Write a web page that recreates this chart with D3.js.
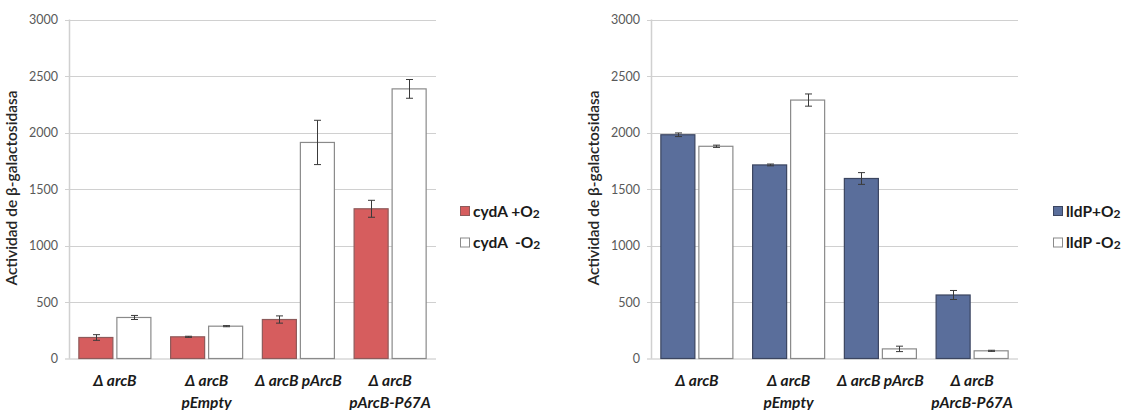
<!DOCTYPE html>
<html>
<head>
<meta charset="utf-8">
<script src="https://cdn.jsdelivr.net/npm/d3@7/dist/d3.min.js"></script>
<style>
  html, body { margin: 0; padding: 0; background: #fff; }
  svg { display: block; }
  text { font-family: Lato, "Open Sans", sans-serif; }
</style>
</head>
<body>
<svg id="chart" width="1126" height="410"></svg>
<script>
// Strain categories (each entry = label lines)
const categories = [
  ["Δ arcB"],
  ["Δ arcB", "pEmpty"],
  ["Δ arcB pArcB"],
  ["Δ arcB", "pArcB-P67A"]
];
const yTicks = [0, 500, 1000, 1500, 2000, 2500, 3000];

// cydA reporter (Miller units)
const cydAPlusO2 = [186, 192, 345, 1325];
const cydAPlusO2Err = [25, 5, 32, 75];
const cydAMinusO2 = [363, 286, 1912, 2386];
const cydAMinusO2Err = [18, 5, 196, 83];

// lldP reporter (Miller units)
const lldPPlusO2 = [1980, 1713, 1593, 562];
const lldPPlusO2Err = [16, 8, 52, 40];
const lldPMinusO2 = [1878, 2287, 85, 68];
const lldPMinusO2Err = [10, 54, 24, 5];

const yTitle = "Actividad de β-galactosidasa";

const svg = d3.select("#chart");

function drawPanel(cfg) {
  const g = svg.append("g").attr("transform", `translate(${cfg.x0},0)`);
  const top = 19.5, bottom = 358.5, width = 367;

  const y = d3.scaleLinear().domain([0, 3000]).range([bottom, top]);
  const x0 = d3.scaleBand().domain(d3.range(categories.length))
    .range([0, width]).paddingInner(0.215).paddingOuter(0.1075);
  const x1 = d3.scaleBand().domain([0, 1])
    .range([0, x0.bandwidth()]).paddingInner(0.105).paddingOuter(0);

  // gridlines
  g.append("g").selectAll("line").data(yTicks.filter(d => d > 0)).join("line")
    .attr("x1", -4).attr("x2", width)
    .attr("y1", d => Math.round(y(d)) + 0.5).attr("y2", d => Math.round(y(d)) + 0.5)
    .attr("stroke", "#d0d0d0").attr("stroke-width", 1.2);

  // y axis (labels only, line drawn separately)
  const yAxis = d3.axisLeft(y).tickValues(yTicks).tickFormat(d3.format("d"))
    .tickSize(0).tickPadding(11);
  const ya = g.append("g").call(yAxis);
  ya.select(".domain").remove();
  ya.selectAll("text").attr("fill", "#595959")
    .style("font-size", "12.5px").style("font-family", "Lato, sans-serif");

  // axis lines
  g.append("line").attr("x1", 0.5).attr("x2", 0.5).attr("y1", top).attr("y2", bottom)
    .attr("stroke", "#d0d0d0").attr("stroke-width", 1.5);
  g.append("line").attr("x1", -4).attr("x2", width).attr("y1", bottom + 0.5).attr("y2", bottom + 0.5)
    .attr("stroke", "#c4c4c4").attr("stroke-width", 1.2);

  const series = [
    { vals: cfg.plus, err: cfg.plusErr, fill: cfg.color, stroke: cfg.edge },
    { vals: cfg.minus, err: cfg.minusErr, fill: "#ffffff", stroke: "#8a8a8a" }
  ];

  series.forEach((s, si) => {
    const sg = g.append("g");
    sg.selectAll("rect").data(s.vals).join("rect")
      .attr("x", (d, i) => x0(i) + x1(si))
      .attr("y", d => y(d))
      .attr("width", x1.bandwidth())
      .attr("height", d => bottom - y(d))
      .attr("fill", s.fill)
      .attr("stroke", s.stroke).attr("stroke-width", 1.2);

    const eg = g.append("g").attr("stroke", "#3a3a3a").attr("stroke-width", 1);
    s.vals.forEach((v, i) => {
      const cx = Math.round(x0(i) + x1(si) + x1.bandwidth() / 2) + 0.5;
      const e = s.err[i];
      eg.append("line").attr("x1", cx).attr("x2", cx).attr("y1", y(v + e)).attr("y2", y(v - e));
      eg.append("line").attr("x1", cx - 3.5).attr("x2", cx + 3.5).attr("y1", y(v + e)).attr("y2", y(v + e));
      eg.append("line").attr("x1", cx - 3.5).attr("x2", cx + 3.5).attr("y1", y(v - e)).attr("y2", y(v - e));
    });
  });

  // category labels
  const lab = g.append("g").attr("text-anchor", "middle")
    .style("font-size", "15.5px").style("font-weight", "bold").style("font-style", "italic")
    .attr("fill", "#1a1a1a");
  categories.forEach((lines, i) => {
    const t = lab.append("text").attr("x", x0(i) + x0.bandwidth() / 2).attr("y", 385);
    lines.forEach((ln, k) => {
      t.append("tspan").attr("x", x0(i) + x0.bandwidth() / 2).attr("y", 386 + k * 21.5).text(ln);
    });
  });

  // y title
  g.append("text")
    .attr("transform", `translate(${-52},${188}) rotate(-90)`)
    .attr("text-anchor", "middle")
    .style("font-size", "15.5px").style("font-weight", "600")
    .attr("fill", "#262626")
    .text(yTitle);

  // legend
  const lg = svg.append("g").attr("transform", `translate(${cfg.legendX},0)`);
  cfg.legend.forEach((item, k) => {
    const cy = 211 + k * 31.5;
    lg.append("rect").attr("x", 0.5).attr("y", cy - 4.5).attr("width", 9).attr("height", 9)
      .attr("fill", series[k].fill).attr("stroke", k === 0 ? cfg.edge : "#8a8a8a").attr("stroke-width", 1);
    const t = lg.append("text").attr("x", 13).attr("y", cy + 5.5)
      .style("font-size", "15.5px").style("font-weight", "bold").attr("fill", "#1a1a1a")
      .style("white-space", "pre");
    t.append("tspan").text(item[0]);
    t.append("tspan").style("font-size", "12px").attr("dy", 1).text(item[1]);
  });
}

drawPanel({
  x0: 69, legendX: 460,
  plus: cydAPlusO2, plusErr: cydAPlusO2Err,
  minus: cydAMinusO2, minusErr: cydAMinusO2Err,
  color: "#d65d5e", edge: "#8e5a5a",
  legend: [["cydA +O", "2"], ["cydA  -O", "2"]]
});

drawPanel({
  x0: 651, legendX: 1053,
  plus: lldPPlusO2, plusErr: lldPPlusO2Err,
  minus: lldPMinusO2, minusErr: lldPMinusO2Err,
  color: "#5a6e9b", edge: "#3b4560",
  legend: [["lldP+O", "2"], ["lldP -O", "2"]]
});
</script>
</body>
</html>
